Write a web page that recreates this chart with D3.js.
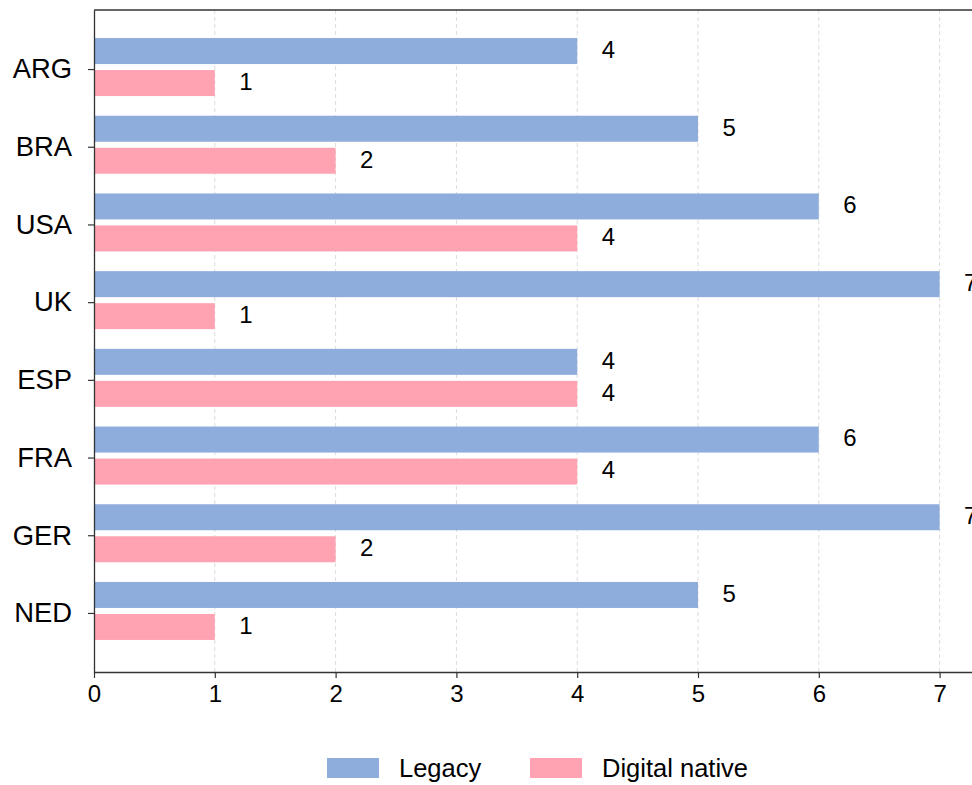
<!DOCTYPE html>
<html>
<head>
<meta charset="utf-8">
<script src="https://cdn.jsdelivr.net/npm/d3@7"></script>
<style>
  body { margin: 0; background: #fff; }
  text { font-family: "Liberation Sans", Arial, sans-serif; fill: #000; }
</style>
</head>
<body>
<div id="chart"></div>
<script>
// data
var countries = ["ARG", "BRA", "USA", "UK", "ESP", "FRA", "GER", "NED"];
var legacy = [4, 5, 6, 7, 4, 6, 7, 5];
var digitalNative = [1, 2, 4, 1, 4, 4, 2, 1];
var xTicks = [0, 1, 2, 3, 4, 5, 6, 7];
var seriesNames = ["Legacy", "Digital native"];
var seriesColors = ["#8eaddc", "#ffa3b3"];

var W = 972, H = 785;
var margin = {top: 10, left: 94, bottom: 113};

var svg = d3.select("#chart").append("svg")
    .attr("width", W)
    .attr("height", H);

var x = d3.scaleLinear()
    .domain([0, 7.3])
    .range([margin.left, margin.left + 7.3 * 120.8]);

var y = d3.scalePoint()
    .domain(countries)
    .range([margin.top, H - margin.bottom])
    .padding(0.76);

var plotBottom = H - margin.bottom;
var barH = 26;

// grid lines
svg.append("g").selectAll("line")
    .data(xTicks.slice(1))
  .enter().append("line")
    .attr("x1", function(d) { return x(d); })
    .attr("x2", function(d) { return x(d); })
    .attr("y1", margin.top)
    .attr("y2", plotBottom)
    .attr("stroke", "#dcdcdc")
    .attr("stroke-width", 1)
    .attr("stroke-dasharray", "4,3");

var series = [
  {name: seriesNames[0], values: legacy, color: seriesColors[0], off: -31},
  {name: seriesNames[1], values: digitalNative, color: seriesColors[1], off: 1}
];

series.forEach(function(s) {
  var g = svg.append("g");
  g.selectAll("rect")
      .data(countries)
    .enter().append("rect")
      .attr("x", x(0))
      .attr("y", function(d) { return y(d) + s.off; })
      .attr("width", function(d, i) { return x(s.values[i]) - x(0); })
      .attr("height", barH)
      .attr("fill", s.color);

  // value labels (the 7s run off the right edge, as in the original)
  g.selectAll("text")
      .data(countries)
    .enter().append("text")
      .attr("x", function(d, i) { return x(s.values[i]) + 24.5; })
      .attr("y", function(d) { return y(d) + s.off + barH / 2 - 1.5; })
      .attr("dy", "0.35em")
      .style("font-size", "24px")
      .text(function(d, i) { return s.values[i]; });
});

// axes
var xAxis = svg.append("g")
    .attr("transform", "translate(0," + plotBottom + ")")
    .call(d3.axisBottom(x).tickValues(xTicks).tickSize(6).tickPadding(7).tickSizeOuter(0));
xAxis.select(".domain").attr("stroke", "#333").attr("stroke-width", 1.3);
xAxis.selectAll(".tick line").attr("stroke", "#333").attr("stroke-width", 1.2);
xAxis.selectAll(".tick text").style("font-size", "24px").attr("fill", "#000");

var yAxis = svg.append("g")
    .attr("transform", "translate(" + margin.left + ",0)")
    .call(d3.axisLeft(y).tickSize(6).tickPadding(16).tickSizeOuter(0));
yAxis.select(".domain").attr("stroke", "#333").attr("stroke-width", 1.3);
yAxis.selectAll(".tick line").attr("stroke", "#333").attr("stroke-width", 1.2);
yAxis.selectAll(".tick text").style("font-size", "27.4px").attr("fill", "#000");

// top spine
svg.append("line")
    .attr("x1", margin.left).attr("x2", W)
    .attr("y1", margin.top).attr("y2", margin.top)
    .attr("stroke", "#333").attr("stroke-width", 1.3);

// legend
var legendX = [327, 530];
var legend = svg.append("g").selectAll("g")
    .data(series)
  .enter().append("g")
    .attr("transform", function(d, i) { return "translate(" + legendX[i] + ",758)"; });
legend.append("rect")
    .attr("width", 52)
    .attr("height", 20)
    .attr("fill", function(d) { return d.color; });
legend.append("text")
    .attr("x", 72)
    .attr("y", 10)
    .attr("dy", "0.35em")
    .style("font-size", "25.5px")
    .text(function(d) { return d.name; });
</script>
</body>
</html>
